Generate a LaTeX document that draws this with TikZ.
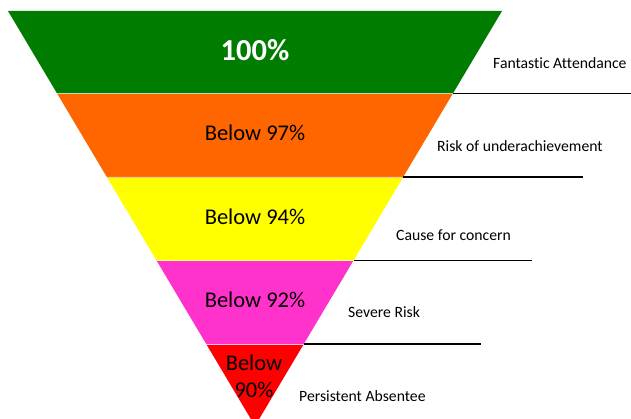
\documentclass[tikz,border=0pt]{standalone}
\usepackage{fontspec}
\setmainfont{Carlito}[Ligatures={NoCommon}]
\definecolor{fgreen}{HTML}{007C00}
\definecolor{forange}{HTML}{FF6600}
\definecolor{fyellow}{HTML}{FFFF00}
\definecolor{fmagenta}{HTML}{FF33CC}
\definecolor{fred}{HTML}{FF0000}
\tikzset{
  bandtext/.style={font=\fontsize{22.5}{24}\selectfont, text=black, inner sep=0pt, align=center},
  lbl/.style={font=\fontsize{15.7}{18}\selectfont, text=black, inner sep=0pt, anchor=west},
  rule/.style={draw=black, line width=1.8pt},
}
\begin{document}
\begin{tikzpicture}[x=1pt,y=-1pt]
\path[use as bounding box] (0,0) rectangle (631,419);
\clip (0,0) rectangle (631,419);
% funnel corners
\coordinate (tl) at (8,11);
\coordinate (tr) at (502,11);
\coordinate (l1) at (57.1,93.5);
\coordinate (r1) at (452.9,93.5);
\coordinate (l2) at (106.8,177);
\coordinate (r2) at (403.2,177);
\coordinate (l3) at (156.5,260.5);
\coordinate (r3) at (353.5,260.5);
\coordinate (l4) at (206.2,344);
\coordinate (r4) at (303.8,344);
\coordinate (apex) at (255,426);
% bands
\fill[fgreen] (tl) -- (tr) -- (r1) -- (l1) -- cycle;
\fill[forange] (l1) -- (r1) -- (r2) -- (l2) -- cycle;
\fill[fyellow] (l2) -- (r2) -- (r3) -- (l3) -- cycle;
\fill[fmagenta] (l3) -- (r3) -- (r4) -- (l4) -- cycle;
\fill[fred] (l4) -- (r4) -- (apex) -- cycle;
\draw[white!75!fgreen, line width=0.5pt] (l1) -- (r1);
\draw[white!60!forange, line width=0.5pt] (l2) -- (r2);
\draw[white!60!fyellow, line width=0.5pt] (l3) -- (r3);
\draw[white!70!fmagenta, line width=0.5pt] (l4) -- (r4);
% band texts
\node[font=\bfseries\fontsize{30.5}{32}\selectfont, text=white, inner sep=0pt] (t1) at (255,50) {100\%};
\node[bandtext] (t2) at (255,133) {Below 97\%};
\node[bandtext] (t3) at (255,216.5) {Below 94\%};
\node[bandtext] (t4) at (255,300) {Below 92\%};
\node[bandtext, font=\fontsize{22.5}{27}\selectfont] (t5) at (254,376) {Below\\90\%};
% rules
\coordinate (e1) at (631,93.5);
\coordinate (e2) at (583,177);
\coordinate (e3) at (532,260.5);
\coordinate (e4) at (481,344);
\draw[rule] (r1) -- (e1);
\draw[rule] (r2) -- (e2);
\draw[rule] (r3) -- (e3);
\draw[rule] (r4) -- (e4);
% labels
\node[lbl] (a1) at (493,63) {Fantastic Attendance};
\node[lbl] (a2) at (437,146) {Risk of underachievement};
\node[lbl] (a3) at (396,235) {Cause for concern};
\node[lbl] (a4) at (348,312.5) {Severe Risk};
\node[lbl] (a5) at (299,396) {Persistent Absentee};
\end{tikzpicture}
\end{document}
